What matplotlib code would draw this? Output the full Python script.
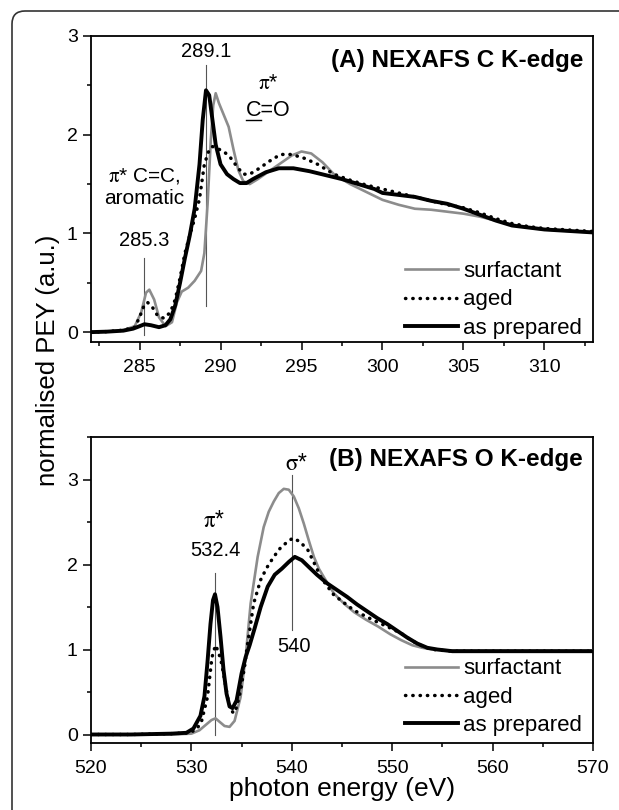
import matplotlib
matplotlib.use("Agg")
import matplotlib.pyplot as plt
from matplotlib.patches import FancyBboxPatch
from matplotlib.ticker import MultipleLocator
from matplotlib.lines import Line2D
import matplotlib.transforms as mtransforms

plt.rcParams['font.family'] = ['Liberation Sans', 'DejaVu Sans']
plt.rcParams['mathtext.fontset'] = 'stix'

# ---------------- data: C K-edge ----------------
c_e_surf = [282, 283, 284, 284.7, 285.1, 285.4, 285.6, 285.9, 286.2, 286.6, 287.0, 287.3, 287.6, 288.0,
            288.4, 288.8, 289.0, 289.2, 289.4, 289.55, 289.7, 289.9, 290.2, 290.5, 290.8, 291.1, 291.4,
            291.8, 292.3, 293.0, 293.7, 294.4, 295.0, 295.6, 296.3, 297.0, 298, 299, 300, 301, 302, 303,
            304, 305, 306, 307, 308, 309, 310, 311, 312, 313]
c_v_surf = [0.0, 0.005, 0.02, 0.06, 0.2, 0.4, 0.43, 0.33, 0.15, 0.06, 0.1, 0.3, 0.41, 0.45,
            0.52, 0.62, 0.8, 1.3, 1.95, 2.3, 2.42, 2.32, 2.2, 2.08, 1.85, 1.64, 1.53,
            1.5, 1.55, 1.63, 1.71, 1.79, 1.83, 1.81, 1.72, 1.6, 1.5, 1.42, 1.34, 1.29, 1.25, 1.24,
            1.22, 1.2, 1.17, 1.13, 1.09, 1.06, 1.04, 1.03, 1.02, 1.01]

c_e_aged = [282, 283, 284, 284.7, 285.0, 285.3, 285.5, 285.8, 286.1, 286.5, 286.9, 287.2, 287.5, 287.8,
            288.1, 288.4, 288.7, 289.0, 289.3, 289.5, 289.8, 290.2, 290.6, 291.0, 291.4, 291.8, 292.4,
            293.0, 293.7, 294.4, 295.2, 296.0, 297.0, 298, 299, 300, 301, 302, 303, 304, 305, 306, 307,
            308, 309, 310, 311, 312, 313]
c_v_aged = [0.0, 0.005, 0.02, 0.05, 0.15, 0.28, 0.3, 0.25, 0.17, 0.14, 0.2, 0.33, 0.55, 0.8,
            0.98, 1.15, 1.35, 1.7, 1.85, 1.88, 1.86, 1.83, 1.77, 1.68, 1.6, 1.6, 1.66,
            1.73, 1.8, 1.8, 1.76, 1.7, 1.6, 1.54, 1.49, 1.45, 1.41, 1.37, 1.33, 1.29, 1.26, 1.21, 1.15,
            1.10, 1.07, 1.05, 1.04, 1.03, 1.02]

c_e_prep = [282, 283, 284, 284.6, 285.0, 285.3, 285.7, 286.2, 286.6, 286.9, 287.2, 287.5, 287.8, 288.1,
            288.4, 288.7, 288.9, 289.1, 289.3, 289.5, 289.7, 290.0, 290.4, 290.8, 291.2, 291.6, 292.0,
            292.8, 293.6, 294.5, 295.5, 296.5, 297.5, 298.5, 299.5, 300.0, 301, 302, 303, 304, 305,
            306, 307, 308, 309, 310, 311, 312, 313]
c_v_prep = [0.0, 0.005, 0.015, 0.035, 0.06, 0.08, 0.07, 0.05, 0.07, 0.13, 0.27, 0.5, 0.75, 0.98,
            1.25, 1.7, 2.15, 2.45, 2.4, 2.15, 1.9, 1.7, 1.6, 1.55, 1.51, 1.51, 1.55,
            1.62, 1.66, 1.66, 1.63, 1.59, 1.55, 1.50, 1.45, 1.41, 1.39, 1.37, 1.33, 1.30, 1.25,
            1.19, 1.13, 1.08, 1.06, 1.04, 1.03, 1.02, 1.01]

# ---------------- data: O K-edge ----------------
o_e_surf = [520, 524, 528, 530, 530.8, 531.5, 532.0, 532.4, 532.8, 533.3, 533.8, 534.3, 534.9, 535.4,
            535.9, 536.6, 537.2, 537.7, 538.2, 538.7, 539.2, 539.7, 540.2, 540.7, 541.2, 541.7, 542.2,
            542.7, 543.2, 544.2, 545.2, 546.2, 547.4, 548.6, 549.8, 550.9, 552.0, 553.0, 554.0, 555.5,
            560, 565, 570]
o_v_surf = [0.0, 0.0, 0.0, 0.01, 0.05, 0.12, 0.17, 0.19, 0.15, 0.1, 0.09, 0.16, 0.44, 0.91,
            1.54, 2.09, 2.44, 2.62, 2.74, 2.84, 2.89, 2.88, 2.8, 2.66, 2.48, 2.28, 2.09,
            1.95, 1.85, 1.66, 1.54, 1.44, 1.35, 1.27, 1.18, 1.11, 1.05, 1.02, 1.0, 0.99,
            0.99, 0.99, 0.99]

o_e_aged = [520, 524, 528, 529.8, 530.5, 531.0, 531.6, 532.05, 532.4, 532.7, 533.0, 533.3, 533.6, 533.9,
            534.2, 534.5, 534.9, 535.3, 535.6, 535.9, 536.2, 536.6, 536.9, 537.5, 538.2, 538.9, 539.6,
            540.1, 540.8, 541.6, 542.3, 542.9, 543.5, 544.2, 545.2, 546.2, 547.2, 548.2, 549.5, 550.9,
            552.0, 553.0, 554.0, 556, 560, 565, 570]
o_v_aged = [0.0, 0.0, 0.01, 0.02, 0.06, 0.15, 0.44, 0.91, 1.05, 0.97, 0.84, 0.65, 0.44, 0.3,
            0.25, 0.32, 0.52, 0.8, 1.07, 1.3, 1.54, 1.7, 1.82, 1.96, 2.09, 2.2, 2.27,
            2.31, 2.27, 2.17, 2.0, 1.85, 1.75, 1.64, 1.55, 1.46, 1.40, 1.34, 1.27, 1.19,
            1.1, 1.04, 1.0, 0.98, 0.98, 0.98, 0.98]

o_e_prep = [520, 524, 528, 529.5, 530.2, 530.9, 531.3, 531.6, 531.9, 532.15, 532.35, 532.6, 532.9, 533.2,
            533.5, 533.8, 534.1, 534.5, 535.0, 535.4, 535.8, 536.3, 536.9, 537.6, 538.3, 539.0, 539.7,
            540.3, 541.0, 541.7, 542.5, 543.5, 544.5, 545.5, 546.5, 547.5, 548.5, 549.5, 550.5, 551.5,
            552.5, 553.5, 554.5, 556, 560, 565, 570]
o_v_prep = [0.0, 0.0, 0.01, 0.02, 0.07, 0.22, 0.45, 0.85, 1.3, 1.58, 1.65, 1.5, 1.15, 0.76,
            0.48, 0.33, 0.31, 0.4, 0.72, 0.91, 1.05, 1.25, 1.5, 1.74, 1.88, 1.95, 2.03,
            2.09, 2.05, 1.97, 1.88, 1.78, 1.7, 1.62, 1.53, 1.45, 1.37, 1.3, 1.22, 1.14,
            1.07, 1.02, 1.0, 0.98, 0.98, 0.98, 0.98]

series_labels = ["surfactant", "aged", "as prepared"]
c_peaks = [285.3, 289.1]
o_peaks = [532.4, 540]

GRAY = "#8c8c8c"
W, H = 619, 810
fig = plt.figure(figsize=(W / 100, H / 100), dpi=100)

# border (rounded frame, clipped by the figure edge)
frame = FancyBboxPatch((12, -40), 660, 810 - 11 + 40, boxstyle="round,pad=0,rounding_size=13",
                       transform=None, fill=False, edgecolor="#333333", linewidth=1.2)
fig.patches.append(frame)

axA = fig.add_axes([91 / W, 1 - 342 / H, 502 / W, 306 / H])
axB = fig.add_axes([91 / W, 1 - 743 / H, 502 / W, 306 / H])

TICK_FS = 14
ANN_FS = 14.5


def style(ax):
    for s in ax.spines.values():
        s.set_linewidth(1.3)
        s.set_color("black")
    ax.tick_params(which="major", direction="out", length=6, width=1.1, labelsize=TICK_FS, pad=6.5)
    ax.tick_params(which="minor", direction="out", length=3, width=1.1)
    ax.tick_params(axis="y", which="major", pad=3.5)


def draw(ax, es, vs, leg_y):
    ax.plot(es[0], vs[0], color=GRAY, lw=1.9, label=series_labels[0], zorder=3)
    ax.plot(es[1], vs[1], color="black", lw=2.5, linestyle=(0, (0.1, 2.0)), dash_capstyle="round",
            label=series_labels[1], zorder=4)
    ax.plot(es[2], vs[2], color="black", lw=2.8, label=series_labels[2], zorder=5)
    ax.legend(loc="lower right", bbox_to_anchor=(0.985, leg_y), frameon=False, fontsize=16,
              handlelength=2.4, handletextpad=0.22, labelspacing=0.33, borderpad=0.15,
              borderaxespad=0.0)


# ---- panel A ----
draw(axA, [c_e_surf, c_e_aged, c_e_prep], [c_v_surf, c_v_aged, c_v_prep], 0.0)
axA.set_xlim(282, 313)
axA.set_ylim(-0.1, 3)
axA.xaxis.set_major_locator(MultipleLocator(5))
axA.xaxis.set_minor_locator(MultipleLocator(2.5))
axA.yaxis.set_major_locator(MultipleLocator(1))
axA.yaxis.set_minor_locator(MultipleLocator(0.5))
style(axA)
axA.text(0.98, 0.92, "(A) NEXAFS C K-edge", transform=axA.transAxes, ha="right", va="center",
         fontsize=17.5, fontweight="bold")
lc = "#555555"
axA.plot([c_peaks[1]] * 2, [0.26, 2.71], color=lc, lw=0.8, zorder=2)
axA.plot([c_peaks[0]] * 2, [-0.03, 0.75], color=lc, lw=0.8, zorder=2)
axA.text(c_peaks[1], 2.84, "289.1", ha="center", va="center", fontsize=ANN_FS)
axA.text(c_peaks[0], 0.93, "285.3", ha="center", va="center", fontsize=ANN_FS)
axA.text(c_peaks[0], 1.47, "$\\mathrm{\\pi}$* C=C,\naromatic", ha="center", va="center",
         fontsize=15, linespacing=1.15)
axA.text(292.95, 2.52, "$\\mathrm{\\pi}$*", ha="center", va="center", fontsize=15.5)
co_x, co_y, co_fs = 292.95, 2.25, 15.5
axA.text(co_x, co_y, "C=O", ha="center", va="center", fontsize=co_fs)
# underline under "C" (offset in points from the text anchor)
w_tot = (0.722 + 0.584 + 0.778) * co_fs
x0 = -w_tot / 2
x1 = x0 + 0.722 * co_fs
px = fig.dpi / 72.0
ul_line = Line2D([x0 * px, x1 * px], [-0.45 * co_fs * px] * 2, color="black", lw=1.0,
                 transform=mtransforms.Affine2D() + mtransforms.ScaledTranslation(co_x, co_y, axA.transData))
axA.add_line(ul_line)

# ---- panel B ----
draw(axB, [o_e_surf, o_e_aged, o_e_prep], [o_v_surf, o_v_aged, o_v_prep], 0.012)
axB.set_xlim(520, 570)
axB.set_ylim(-0.1, 3.5)
axB.xaxis.set_major_locator(MultipleLocator(10))
axB.xaxis.set_minor_locator(MultipleLocator(5))
axB.yaxis.set_major_locator(MultipleLocator(1))
axB.yaxis.set_minor_locator(MultipleLocator(0.5))
style(axB)
axB.text(0.98, 0.925, "(B) NEXAFS O K-edge", transform=axB.transAxes, ha="right", va="center",
         fontsize=17.5, fontweight="bold")
axB.plot([o_peaks[0]] * 2, [0.0, 1.9], color=lc, lw=0.8, zorder=2)
axB.plot([o_peaks[1]] * 2, [1.23, 3.05], color=lc, lw=0.8, zorder=2)
axB.text(o_peaks[0], 2.17, "532.4", ha="center", va="center", fontsize=ANN_FS)
axB.text(532.2, 2.52, "$\\mathrm{\\pi}$*", ha="center", va="center", fontsize=16.5)
axB.text(o_peaks[1] + 0.2, 1.03, "540", ha="center", va="center", fontsize=ANN_FS)
axB.text(o_peaks[1] + 0.5, 3.19, "$\\mathrm{\\sigma}$*", ha="center", va="center", fontsize=16.5)
axB.set_xlabel("photon energy (eV)", fontsize=19, labelpad=0)

fig.text(48 / W, 1 - 360 / H, "normalised PEY (a.u.)", rotation=90, ha="center", va="center",
         fontsize=18.5)

fig.savefig("out.png", dpi=100)
